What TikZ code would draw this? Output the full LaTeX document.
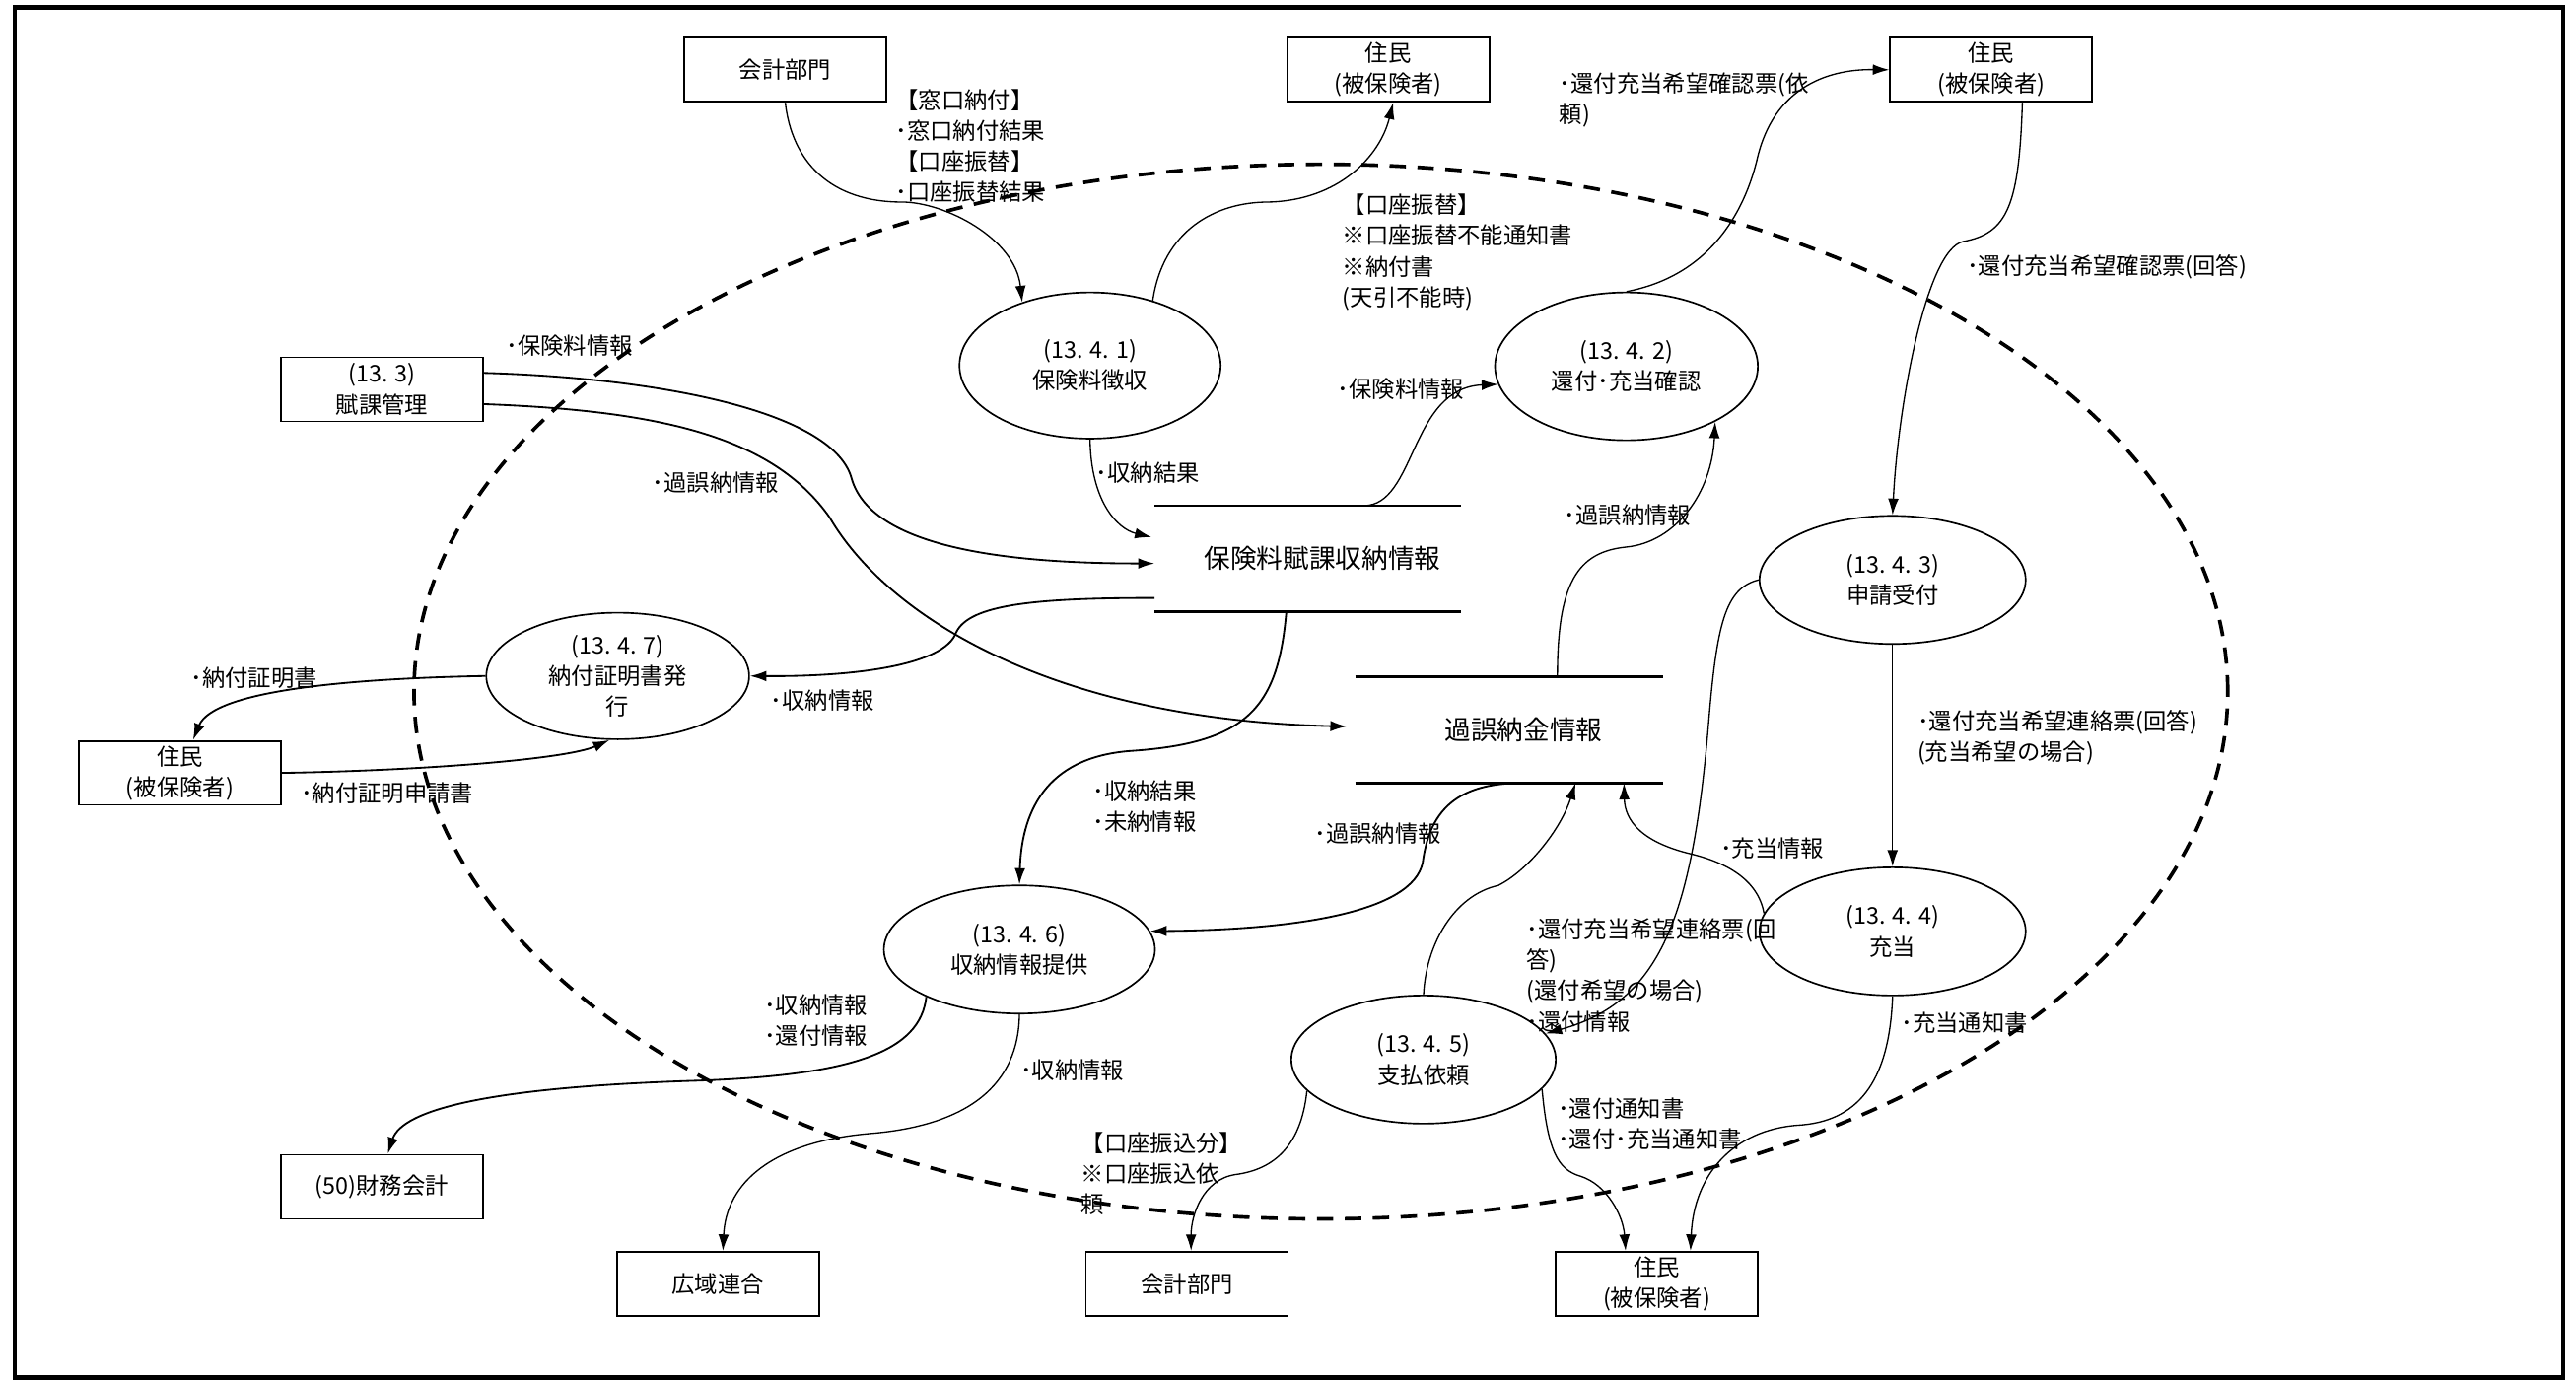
\documentclass[tikz,border=0pt]{standalone}
\usepackage{fontspec}
\setmainfont{Noto Sans CJK JP}
\usetikzlibrary{arrows.meta,shapes.geometric}
\begin{document}
\begin{tikzpicture}[x=1pt,y=-1pt,
  font=\fontsize{14pt}{18.7pt}\selectfont,
  ent/.style={draw,line width=1.1pt,minimum width=123pt,minimum height=39pt,inner sep=0pt,align=center},
  proc/.style={draw,ellipse,line width=1pt,inner sep=0pt,align=center},
  dstore/.style={inner sep=0pt,minimum height=64pt,font=\fontsize{16pt}{20pt}\selectfont},
  storeline/.style={line width=1.6pt},
  lbl/.style={anchor=north west,inner sep=0pt,align=left},
  flow/.style={-{Latex[length=10pt,width=6.5pt]},line width=0.8pt},
  flowb/.style={flow,line width=1.1pt},
  boundary/.style={line width=2.2pt,dash pattern=on 10pt off 7pt}
]
\useasboundingbox (0,0) rectangle (1568,841.3);
\draw[line width=2.6pt] (9,4.5) rectangle (1560,838.5);
\draw[boundary] (804,421) ellipse [x radius=552pt, y radius=321pt];

% external entities
\node[ent] (kt) at (478,42.5) {会計部門};
\node[ent] (hm) at (845,42.5) {住民\\(被保険者)};
\node[ent] (hr) at (1212,42.5) {住民\\(被保険者)};
\node[ent] (fk) at (232.5,237) {(13. 3)\\賦課管理};
\node[ent] (hl) at (109.5,470.5) {住民\\(被保険者)};
\node[ent] (zm) at (232.5,722.5) {(50)財務会計};
\node[ent] (kr) at (437,781.5) {広域連合};
\node[ent] (kb) at (722.5,781.5) {会計部門};
\node[ent] (hb) at (1008.5,781.5) {住民\\(被保険者)};

% processes
\node[proc,minimum width=159pt,minimum height=89pt] (p1) at (663.5,222.5) {(13. 4. 1)\\保険料徴収};
\node[proc,minimum width=160pt,minimum height=90pt] (p2) at (990,223) {(13. 4. 2)\\還付･充当確認};
\node[proc,minimum width=162pt,minimum height=78pt] (p3) at (1152,353) {(13. 4. 3)\\申請受付};
\node[proc,minimum width=162pt,minimum height=78pt] (p4) at (1152,567) {(13. 4. 4)\\充当};
\node[proc,minimum width=161pt,minimum height=78pt] (p5) at (866.5,645) {(13. 4. 5)\\支払依頼};
\node[proc,minimum width=165pt,minimum height=78pt] (p6) at (620.5,578) {(13. 4. 6)\\収納情報提供};
\node[proc,minimum width=160pt,minimum height=77pt] (p7) at (376,411.5) {(13. 4. 7)\\納付証明書発\\行};

% data stores
\node[dstore,minimum width=186pt] (ds1) at (796,340) {\hspace*{18pt}保険料賦課収納情報};
\draw[storeline] (ds1.north west) -- (ds1.north east) (ds1.south west) -- (ds1.south east);
\node[dstore,minimum width=187pt,minimum height=64.5pt] (ds2) at (918.5,444.25) {\hspace*{18pt}過誤納金情報};
\draw[storeline] (ds2.north west) -- (ds2.north east) (ds2.south west) -- (ds2.south east);

% flows
\draw[flow] (kt.south) .. controls (482,98) and (505,123) .. (549,123) .. controls (575,123) and (618,145) .. (p1.137);
\draw[flow] (p1.46) .. controls (708,140) and (740,123) .. (772,123) .. controls (815,122) and (840,95) .. ([xshift=3pt]hm.south);
\draw[flowb] ([yshift=10pt]fk.east) .. controls (400,230) and (505,250) .. (518,290) .. controls (528,330) and (600,343) .. ([yshift=-3pt]ds1.west);
\draw[flowb] ([yshift=-9pt]fk.east) .. controls (400,250) and (470,265) .. (505,315) .. controls (540,375) and (640,438) .. ([xshift=-5pt,yshift=2pt]ds2.west);
\draw[flow] (p1.south) .. controls (664,305) and (680,322) .. ([xshift=-2pt,yshift=13pt]ds1.west);
\draw[flow] ([xshift=34pt]ds1.north) .. controls (862,308) and (858,236) .. (p2.188);
\draw[flow] (p2.north) .. controls (1040,168) and (1062,130) .. (1070,95) .. controls (1080,55) and (1110,42) .. (hr.west);
\draw[flow] ([xshift=19pt]hr.south) .. controls (1229,125) and (1222,142) .. (1195,147) .. controls (1172,152) and (1155,250) .. (p3.north);
\draw[flow] (p3.south) -- (p4.north);
\draw[flow] (p3.west) .. controls (1050,358) and (1045,380) .. (1040,440) .. controls (1030,560) and (1010,610) .. (p5.12);
\draw[flow] (p4.172) .. controls (1070,535) and (1050,525) .. (1030,520) .. controls (1000,513) and (989,500) .. ([xshift=70pt]ds2.south);
\draw[flow] (p5.north) .. controls (868,575) and (885,545) .. (912,539) .. controls (930,530) and (950,505) .. ([xshift=40.5pt]ds2.south);
\draw[flowb] ([xshift=3.5pt]ds2.south) .. controls (885,478) and (870,495) .. (866,525) .. controls (860,555) and (790,566) .. (p6.8);
\draw[flowb] ([yshift=-24pt]ds1.west) .. controls (630,364) and (590,368) .. (582,385) .. controls (575,405) and (520,412) .. (p7.east);
\draw[flowb] ([xshift=-13pt]ds1.south) .. controls (778,430) and (760,452) .. (690,457) .. controls (640,460) and (622,490) .. (p6.north);
\draw[flowb] (p7.west) .. controls (215,413) and (130,420) .. ([xshift=8pt]hl.north);
\draw[flowb] (hl.east) .. controls (260,469) and (345,462) .. ([xshift=-5pt]p7.south);
\draw[flowb] (p6.207) .. controls (560,640) and (520,655) .. (420,658) .. controls (300,662) and (245,675) .. ([xshift=3.5pt]zm.north);
\draw[flow] (p6.south) .. controls (620,660) and (590,685) .. (530,690) .. controls (470,695) and (442,720) .. ([xshift=3pt]kr.north);
\draw[flow] (p5.195) .. controls (792,698) and (775,712) .. (752,715) .. controls (732,718) and (725,740) .. ([xshift=2.5pt]kb.north);
\draw[flow] (p5.-14) .. controls (942,700) and (948,712) .. (962,716) .. controls (978,721) and (988,740) .. ([xshift=-19pt]hb.north);
\draw[flow] (p4.south) .. controls (1150,660) and (1130,683) .. (1094,685) .. controls (1055,688) and (1031,715) .. ([xshift=20.5pt]hb.north);
\draw[flow] ([xshift=29.5pt]ds2.north) .. controls (948,355) and (960,336) .. (990,333) .. controls (1020,330) and (1042,300) .. (p2.-32);

% labels
\node[lbl] (l1) at (545,54) {【窓口納付】\\･窓口納付結果\\【口座振替】\\･口座振替結果};
\node[lbl] (l2) at (817,118) {【口座振替】\\※口座振替不能通知書\\※納付書\\(天引不能時)};
\node[lbl] (l3) at (949,44) {･還付充当希望確認票(依\\頼)};
\node[lbl] (l4) at (1197,155) {･還付充当希望確認票(回答)};
\node[lbl] (l5) at (308,204) {･保険料情報};
\node[lbl] (l6) at (397,287) {･過誤納情報};
\node[lbl] (l7) at (667,281) {･収納結果};
\node[lbl] (l8) at (814,230) {･保険料情報};
\node[lbl] (l9) at (952,307) {･過誤納情報};
\node[lbl] (l10) at (1167,432) {･還付充当希望連絡票(回答)\\(充当希望の場合)};
\node[lbl] (l11) at (116,406) {･納付証明書};
\node[lbl] (l12) at (469,420) {･収納情報};
\node[lbl] (l13) at (183,476) {･納付証明申請書};
\node[lbl] (l14) at (665,475) {･収納結果\\･未納情報};
\node[lbl] (l15) at (800,501) {･過誤納情報};
\node[lbl] (l16) at (1047,510) {･充当情報};
\node[lbl] (l17) at (929,559) {･還付充当希望連絡票(回\\答)\\(還付希望の場合)\\･還付情報};
\node[lbl] (l18) at (465,605) {･収納情報\\･還付情報};
\node[lbl] (l19) at (621,645) {･収納情報};
\node[lbl] (l20) at (1157,616) {･充当通知書};
\node[lbl] (l21) at (948,668) {･還付通知書\\･還付･充当通知書};
\node[lbl] (l22) at (658,689) {【口座振込分】\\※口座振込依\\頼};
\end{tikzpicture}
\end{document}
